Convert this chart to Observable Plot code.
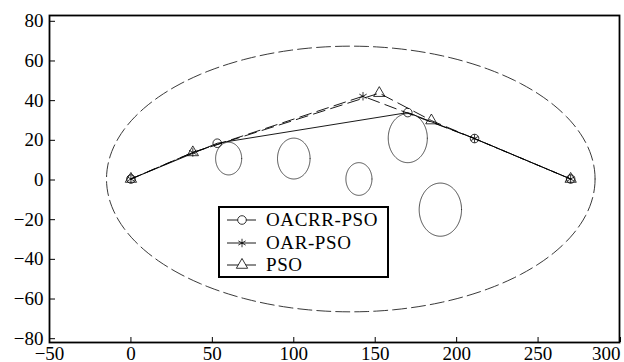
<!DOCTYPE html>
<html><head><meta charset="utf-8">
<script src="https://cdn.jsdelivr.net/npm/d3@7"></script>
<script src="https://cdn.jsdelivr.net/npm/@observablehq/plot@0.6"></script>
<style>
body{margin:0;background:#fff;}
#wrap{position:relative;width:624px;height:362px;}
#legend{position:absolute;left:218px;top:206px;width:167px;height:68px;border:2px solid #000;background:#fff;
  font-family:"Liberation Serif","Times New Roman",Times,serif;font-size:19px;color:#000;}
#legend .row{position:absolute;left:0;height:22px;display:flex;align-items:center;}
#legend svg{display:block;}
#legend span{margin-left:9px;line-height:22px;letter-spacing:0.6px;white-space:nowrap;}
</style></head><body><div id="wrap"></div>
<script>
// axis ticks
const xTicks = [-50, 0, 50, 100, 150, 200, 250, 300];
const yTicks = [-80, -60, -40, -20, 0, 20, 40, 60, 80];

// path series
const seriesNames = ["OACRR-PSO", "OAR-PSO", "PSO"];
const oacrrX = [0, 53, 170, 211, 270];
const oacrrY = [0, 17.5, 32.5, 19.8, 0];
const oarX = [0, 38, 142.5, 211, 270];
const oarY = [0, 13, 40.5, 19.8, 0];
const psoX = [0, 38, 152.5, 184.5, 270];
const psoY = [0, 13, 42, 28.6, 0];

// obstacles (circles): centre and radius
const obsCx = [60, 100, 140, 170, 190];
const obsCy = [10, 10, 0, 20, -15];
const obsR = [8, 10, 8, 12, 13];

// boundary ellipse: centre and semi-axes
const bndCx = 135, bndCy = 0, bndA = 150, bndB = 65;

function outline(cx, cy, a, b, id) {
  const pts = [];
  for (let k = 0; k <= 180; k++) {
    const t = (k / 180) * 2 * Math.PI;
    pts.push({id, x: cx + a * Math.cos(t), y: cy + b * Math.sin(t)});
  }
  return pts;
}
const obstacleRows = obsCx.flatMap((cx, i) => outline(cx, obsCy[i], obsR[i], obsR[i], i));
const boundaryRows = outline(bndCx, bndCy, bndA, bndB, 0);

const rows = (xs, ys) => xs.map((x, i) => ({x, y: ys[i]}));
const oacrr = rows(oacrrX, oacrrY);
const oar = rows(oarX, oarY);
const pso = rows(psoX, psoY);

const font = '"Liberation Serif","Times New Roman",Times,serif';

// y labels in the figure sit on a slightly compressed spacing relative to the ticks
const yAxes = yTicks.map(t => Plot.axisY({
  ticks: [t], tickSize: -6, tickPadding: 12, tickFormat: d3.format("d"),
  label: null, fontSize: 19, fontFamily: font, dy: 1 + 0.06 * t
}));

const chart = Plot.plot({
  width: 624, height: 362,
  marginLeft: 49, marginRight: 5, marginTop: 15, marginBottom: 20,
  style: {fontFamily: font, fontSize: "19px", background: "#fff", color: "#000"},
  x: {domain: [-50, 300]},
  y: {domain: [-80, 80]},
  marks: [
    Plot.line(boundaryRows, {x: "x", y: "y", stroke: "#222", strokeWidth: 0.9, strokeDasharray: "14,5"}),
    Plot.line(obstacleRows, {x: "x", y: "y", z: "id", stroke: "#222", strokeWidth: 0.8}),
    Plot.line(oacrr, {x: "x", y: "y", stroke: "#000", strokeWidth: 0.9}),
    Plot.line(oar, {x: "x", y: "y", stroke: "#000", strokeWidth: 0.9, strokeDasharray: "12,6"}),
    Plot.line(pso, {x: "x", y: "y", stroke: "#000", strokeWidth: 0.9, strokeDasharray: "12,6", strokeDashoffset: 4}),
    Plot.dot(oacrr, {x: "x", y: "y", symbol: "circle", r: 4.3, stroke: "#000", strokeWidth: 0.8, fill: "none"}),
    Plot.dot(oar, {x: "x", y: "y", symbol: "asterisk", r: 4, stroke: "#000", strokeWidth: 0.8}),
    Plot.dot(pso, {x: "x", y: "y", symbol: "triangle", r: 4.2, stroke: "#000", strokeWidth: 0.8, fill: "none"}),
    Plot.axisX({ticks: xTicks.slice(0, -1), tickSize: -5, tickPadding: 9, tickFormat: d3.format("d"), label: null, fontSize: 19, fontFamily: font}),
    Plot.axisX({ticks: xTicks.slice(-1), tickSize: -5, tickPadding: 9, tickFormat: d3.format("d"), label: null, fontSize: 19, fontFamily: font, textAnchor: "end", dx: 1}),
    ...yAxes,
    Plot.frame({stroke: "#000", strokeWidth: 1.8})
  ]
});
const wrap = document.getElementById("wrap");
wrap.appendChild(chart);

// legend
const legend = document.createElement("div");
legend.id = "legend";
const symbols = ["circle", "asterisk", "triangle"];
const symMap = {circle: d3.symbolCircle, asterisk: d3.symbolAsterisk, triangle: d3.symbolTriangle};
const symR = [4.3, 4, 4.2];
seriesNames.forEach((name, i) => {
  const row = document.createElement("div");
  row.className = "row";
  row.style.top = (1 + i * 22.5) + "px";
  const svg = d3.create("svg").attr("width", 37).attr("height", 22);
  svg.append("line").attr("x1", 7).attr("x2", 36).attr("y1", 11).attr("y2", 11).attr("stroke", "#000").attr("stroke-width", 0.9);
  svg.append("path").attr("transform", "translate(22,11)")
    .attr("d", d3.symbol(symMap[symbols[i]], Math.PI * symR[i] * symR[i])())
    .attr("fill", i === 1 ? "#000" : "#fff").attr("stroke", "#000").attr("stroke-width", 0.8);
  row.appendChild(svg.node());
  const sp = document.createElement("span");
  sp.textContent = name;
  row.appendChild(sp);
  legend.appendChild(row);
});
wrap.appendChild(legend);
</script>
</body></html>
